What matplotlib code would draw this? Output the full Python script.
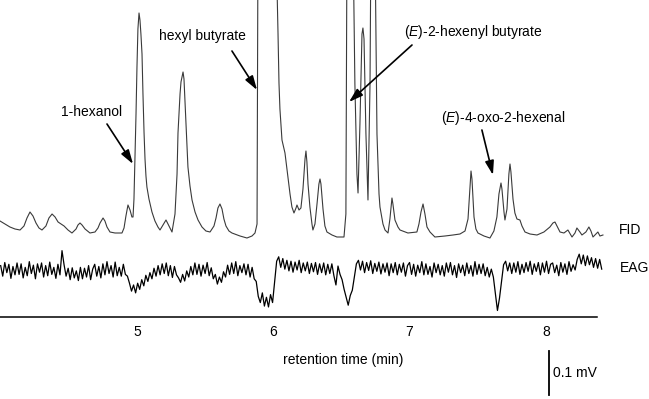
import numpy as np
import matplotlib
matplotlib.use("Agg")
import matplotlib.pyplot as plt

plt.rcParams['font.family'] = ['Liberation Sans', 'DejaVu Sans']
plt.rcParams['mathtext.fontset'] = 'custom'
plt.rcParams['mathtext.it'] = 'Liberation Sans:italic'
plt.rcParams['mathtext.rm'] = 'Liberation Sans'

# FID trace: retention time (min), response (a.u.)
# values of 300 are overloaded peaks running off the top of the frame
fid_time = [3.995, 4.032, 4.068, 4.105, 4.142, 4.171, 4.193, 4.215, 4.237, 4.259,
            4.281, 4.303, 4.332, 4.354, 4.377, 4.399, 4.421, 4.443, 4.465, 4.494,
            4.523, 4.553, 4.567, 4.582, 4.597, 4.619, 4.655, 4.692, 4.714, 4.729,
            4.751, 4.765, 4.780, 4.802, 4.839, 4.890, 4.905, 4.919, 4.934, 4.949,
            4.963, 4.971, 4.978, 4.985, 4.993, 5.000, 5.007, 5.015, 5.022, 5.029,
            5.037, 5.044, 5.052, 5.059, 5.066, 5.073, 5.088, 5.110, 5.132, 5.154,
            5.169, 5.191, 5.213, 5.235, 5.257, 5.279, 5.294, 5.301, 5.316, 5.323,
            5.338, 5.345, 5.352, 5.360, 5.374, 5.389, 5.404, 5.426, 5.448, 5.477,
            5.506, 5.536, 5.565, 5.580, 5.594, 5.609, 5.624, 5.638, 5.653, 5.675,
            5.697, 5.756, 5.807, 5.844, 5.866, 5.881, 5.888, 6.020, 6.027, 6.035,
            6.042, 6.049, 6.064, 6.086, 6.108, 6.123, 6.137, 6.152, 6.167, 6.174,
            6.189, 6.203, 6.218, 6.233, 6.240, 6.247, 6.255, 6.269, 6.284, 6.291,
            6.306, 6.321, 6.335, 6.343, 6.350, 6.365, 6.379, 6.394, 6.431, 6.467,
            6.519, 6.533, 6.541, 6.585, 6.599, 6.614, 6.622, 6.636, 6.651, 6.658,
            6.666, 6.680, 6.695, 6.710, 6.717, 6.746, 6.761, 6.776, 6.783, 6.805,
            6.820, 6.842, 6.856, 6.871, 6.878, 6.893, 6.915, 6.930, 6.988, 7.054,
            7.069, 7.084, 7.099, 7.113, 7.128, 7.150, 7.186, 7.260, 7.319, 7.370,
            7.407, 7.429, 7.443, 7.451, 7.458, 7.473, 7.487, 7.502, 7.546, 7.590,
            7.619, 7.641, 7.656, 7.671, 7.678, 7.693, 7.700, 7.715, 7.729, 7.737,
            7.744, 7.759, 7.773, 7.788, 7.810, 7.825, 7.847, 7.884, 7.935, 7.986,
            8.030, 8.052, 8.067, 8.082, 8.104, 8.133, 8.162, 8.192, 8.214, 8.228,
            8.250, 8.265, 8.294, 8.316, 8.331, 8.346, 8.368, 8.382, 8.397, 8.419]
fid_resp = [13, 10, 7, 5, 4, 8, 16, 22, 18, 11,
            6, 4, 8, 16, 20, 17, 12, 10, 8, 4,
            1, 5, 9, 11, 9, 5, 1, 2, 6, 11,
            16, 13, 7, 2, 1, 1, 6, 18, 29, 24,
            17, 17, 35, 74, 120, 167, 205, 221, 214, 200,
            180, 140, 101, 75, 58, 47, 35, 22, 13, 7,
            4, 9, 14, 8, 2, 20, 60, 101, 140, 152,
            162, 155, 134, 110, 67, 48, 34, 22, 14, 7,
            3, 2, 8, 16, 26, 30, 25, 15, 8, 3,
            1, -2, -4, -2, 1, 10, 300, 300, 250, 200,
            151, 125, 94, 81, 57, 40, 27, 21, 26, 29,
            24, 26, 45, 75, 83, 72, 50, 27, 10, 4,
            10, 30, 50, 55, 50, 25, 8, 2, -1, -3,
            -3, 20, 300, 300, 150, 60, 41, 110, 200, 206,
            195, 100, 34, 150, 300, 300, 100, 40, 27, 10,
            4, 1, 15, 36, 30, 14, 7, 4, 1, 2,
            10, 22, 30, 20, 7, 2, -3, -2, -1, 0,
            3, 15, 45, 63, 55, 17, 5, 1, -2, -4,
            3, 17, 40, 51, 45, 22, 14, 25, 60, 70,
            62, 35, 21, 15, 14, 8, 2, 0, -1, 2,
            7, 11, 12, 8, 2, 1, 4, -3, 1, 6,
            2, -1, 2, 7, 3, -3, 0, 2, -2, -1]

# EAG trace (microvolts), sampled every 0.015 min from 4.00 min
eag_start = 4.0
eag_step = 0.015
eag_uv = [10, -14, 17, -6, 13, -19, 8, -11, 16, -10,
          14, -18, 6, -13, 19, -8, 11, -20, 14, -5,
          16, -16, 10, -13, 18, -10, 6, -19, 13, -11,
          44, 12, -14, 4, -22, 5, -18, -2, -24, 6,
          -20, 4, -16, 10, -22, 2, 13, -14, 8, -18,
          14, -11, 19, -8, 10, -16, 18, -13, 6, -14,
          13, -10, -14, -30, -48, -34, -52, -30, -44, -22,
          -36, -12, -26, -6, -20, 4, -14, 10, -11, 14,
          -8, 16, -13, 10, -17, 8, -11, -18, -28, -10,
          -25, -2, -16, 8, -11, 16, -10, 13, -14, 11,
          -8, 17, -13, 5, -20, -10, -32, -16, -28, -4,
          -16, 11, -10, 16, -8, 19, -13, 10, -6, 14,
          -11, 13, -16, 6, -20, -26, -60, -74, -52, -82,
          -62, -84, -56, -74, -28, 20, 30, 6, 26, 2,
          22, -2, 20, -5, 18, 0, 22, -6, 16, -2,
          18, -8, 15, -4, 17, -10, 14, -6, 16, -11,
          13, -8, 14, -13, -34, 9, -10, -22, -44, -62,
          -80, -58, -46, -16, 14, 22, 0, 20, -6, 17,
          -1, 21, -8, 15, -3, 18, -9, 14, -5, 16,
          -13, 14, -6, 17, -11, 13, -5, 16, -14, 10,
          17, -10, 13, -14, 11, -6, 19, -11, 14, -10,
          8, -16, 16, -6, 13, -11, 10, -14, 16, -5,
          17, -11, 10, -17, 14, -6, 11, -13, 16, -8,
          10, -14, 19, -10, 13, -8, 14, -13, 6, -16,
          2, -16, -54, -92, -64, -26, 12, 20, -2, 16,
          -8, 16, -5, 19, -10, 13, -6, 17, -3, 20,
          -10, 14, -3, 17, -11, 16, -5, 20, -8, 13,
          16, -6, 11, -13, 17, -5, 14, -10, 19, -3,
          12, 0, 24, 36, 14, 34, 10, 32, 12, 28,
          6, 26, 4, 24, 2]

tick_times = [5, 6, 7, 8]
compounds = ['1-hexanol', 'hexyl butyrate',
             r'($\mathit{E}$)-2-hexenyl butyrate', r'($\mathit{E}$)-4-oxo-2-hexenal']

# layout: vertical offsets of the two traces
fid_offset = 165
eag_offset = 129
eag_gain = 0.44     # plot units per microvolt
scalebar_uv = 100
fs = 10

fig = plt.figure(figsize=(6.49, 3.99), dpi=100)
ax = fig.add_axes([0, 0, 1, 1])
ax.set_xlim(3.995, 8.757)
ax.set_ylim(0, 399)
ax.axis('off')

fid_y = fid_offset + np.array(fid_resp, dtype=float)
ax.plot(fid_time, fid_y, color='#3a3a3a', lw=0.8)

eag_t = eag_start + eag_step * np.arange(len(eag_uv))
eag_y = eag_offset + eag_gain * np.array(eag_uv, dtype=float)
ax.plot(eag_t, eag_y, color='black', lw=0.9)

ax.text(8.537, 169, 'FID', fontsize=fs, va='center', ha='left')
ax.text(8.544, 131, 'EAG', fontsize=fs, va='center', ha='left')

# time axis
ax.plot([3.995, 8.375], [82, 82], color='black', lw=1.1)
for t in tick_times:
    ax.text(t, 67, str(t), fontsize=fs, ha='center', va='center')
ax.text(6.511, 39, 'retention time (min)', fontsize=fs, ha='center', va='center')

# scale bar
ax.plot([8.025, 8.025], [4, 4 + eag_gain * scalebar_uv], color='black', lw=1.3)
ax.text(8.052, 26, '0.1 mV', fontsize=fs, ha='left', va='center')

# compound labels with arrows
arrow = dict(arrowstyle='-|>,head_length=0.7,head_width=0.22', color='black',
             lw=1.2, mutation_scale=12, shrinkA=0, shrinkB=0)
ax.annotate('', xy=(4.971, 235), xytext=(4.780, 275), arrowprops=arrow)
ax.annotate('', xy=(5.881, 309), xytext=(5.697, 348), arrowprops=arrow)
ax.annotate('', xy=(6.556, 297), xytext=(7.018, 354), arrowprops=arrow)
ax.annotate('', xy=(7.612, 224), xytext=(7.531, 269), arrowprops=arrow)

ax.text(4.670, 287, compounds[0], fontsize=fs, ha='center', va='center')
ax.text(5.477, 363, compounds[1], fontsize=fs, ha='center', va='center')
ax.text(7.465, 367, compounds[2], fontsize=fs, ha='center', va='center')
ax.text(7.685, 281, compounds[3], fontsize=fs, ha='center', va='center')

fig.savefig('out.png', dpi=100)
